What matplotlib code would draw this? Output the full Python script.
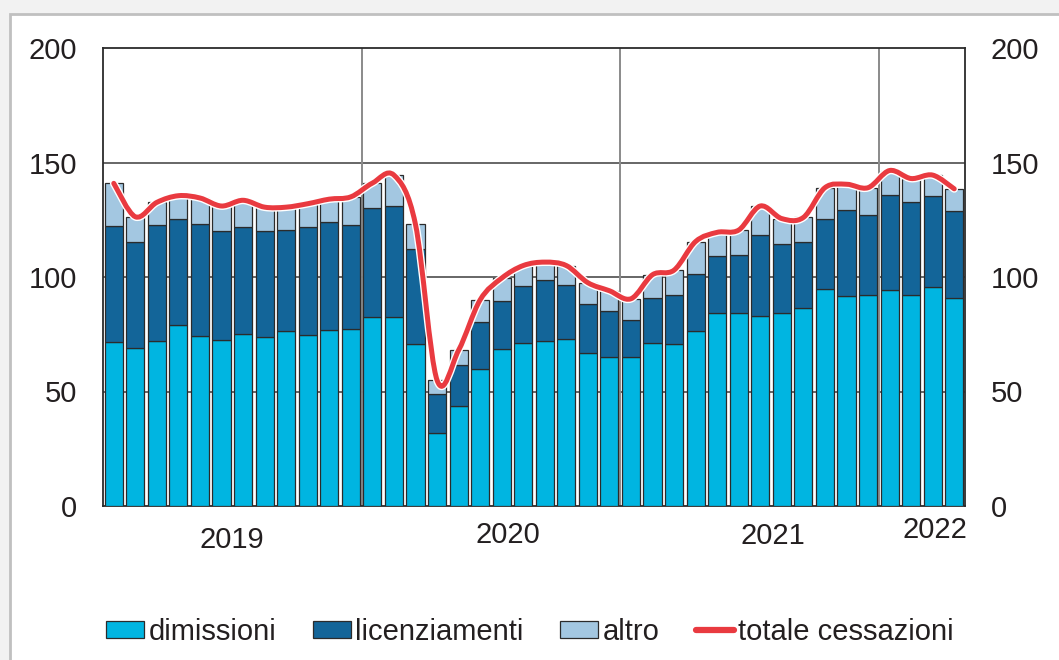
import numpy as np
import matplotlib
matplotlib.use("Agg")
import matplotlib.pyplot as plt
from matplotlib.path import Path
from matplotlib.patches import PathPatch, Rectangle, Patch
from matplotlib.lines import Line2D
import matplotlib.patheffects as pe

plt.rcParams['font.family'] = ['Liberation Sans', 'DejaVu Sans']

# monthly, Jan 2019 - Apr 2022
dimissioni = [71.5, 68.9, 72.1, 79.0, 74.1, 72.4, 75.1, 73.7, 76.3, 74.7, 76.9, 77.2,
              82.4, 82.7, 70.6, 31.7, 43.8, 59.7, 68.4, 71.0, 72.1, 72.8, 66.7, 65.2,
              64.9, 71.2, 70.6, 76.3, 84.1, 84.4, 83.0, 84.1, 86.3, 94.6, 91.7, 92.3,
              94.3, 92.0, 95.5, 90.7]
licenziamenti = [50.6, 46.5, 50.5, 46.5, 48.9, 47.7, 46.7, 46.4, 44.4, 47.1, 47.3, 45.5,
                 47.6, 48.3, 41.5, 17.1, 17.8, 20.6, 21.0, 25.1, 26.6, 23.6, 21.4, 20.0,
                 16.3, 19.6, 21.4, 24.9, 25.1, 25.1, 35.2, 30.5, 29.1, 30.6, 37.4, 34.6,
                 41.4, 40.6, 39.7, 38.1]
altro = [18.8, 10.9, 10.0, 10.0, 11.5, 10.9, 11.7, 10.4, 9.8, 10.2, 9.8, 12.3,
         11.0, 13.5, 10.9, 6.2, 6.4, 9.7, 10.1, 8.9, 7.8, 8.6, 9.4, 8.8,
         9.3, 10.2, 11.0, 14.3, 10.3, 11.0, 12.8, 10.9, 10.6, 13.8, 11.4, 12.1,
         10.8, 10.4, 9.3, 9.7]
anni = ['2019', '2020', '2021', '2022']
anni_x = [5.5, 18.3, 30.6, 38.1]
anni_y = [-0.075, -0.063, -0.065, -0.052]

dim = np.array(dimissioni)
lic = np.array(licenziamenti)
alt = np.array(altro)
totale = dim + lic + alt
x = np.arange(len(dim))

c_dim = '#00b5e1'
c_lic = '#136599'
c_alt = '#a3c7e1'
c_tot = '#e93a40'
c_txt = '#231f20'
fs = 21

fig = plt.figure(figsize=(10.59, 6.60), dpi=100)
fig.patch.set_facecolor('#f2f2f2')
fig.patches.append(Rectangle((9.5 / 1059, -0.1), 1.2, 1 - 13.5 / 660 + 0.1,
                             transform=fig.transFigure, facecolor='white',
                             edgecolor='#c0c0c0', linewidth=2, zorder=-10))

ax = fig.add_axes([103 / 1059, 1 - 506 / 660, 862 / 1059, 458 / 660])
ax.set_facecolor('white')

w = 0.84
ekw = dict(edgecolor='#2b2b2b', linewidth=0.9, zorder=3)
ax.bar(x, dim, w, color=c_dim, **ekw)
ax.bar(x, lic, w, bottom=dim, color=c_lic, **ekw)
ax.bar(x, alt, w, bottom=dim + lic, color=c_alt, **ekw)

# smooth line through totals (Catmull-Rom as cubic Bezier)
pts = np.column_stack([x, totale]).astype(float)
ext = np.vstack([pts[0], pts, pts[-1]])
verts = [tuple(pts[0])]
codes = [Path.MOVETO]
for i in range(1, len(ext) - 2):
    p0, p1, p2, p3 = ext[i - 1], ext[i], ext[i + 1], ext[i + 2]
    verts += [tuple(p1 + (p2 - p0) / 6), tuple(p2 - (p3 - p1) / 6), tuple(p2)]
    codes += [Path.CURVE4] * 3
line = PathPatch(Path(verts, codes), fill=False, edgecolor=c_tot, linewidth=3.6,
                 capstyle='round', joinstyle='round', zorder=5)
line.set_path_effects([pe.Stroke(linewidth=5.6, foreground='white'), pe.Normal()])
ax.add_patch(line)

ax.set_xlim(-0.5, len(x) - 0.5)
ax.set_ylim(0, 200)
for yv in [50, 100, 150]:
    ax.axhline(yv, color='#4d4d4d', linewidth=1.2, zorder=1)
for xv in [11.5, 23.5, 35.5]:
    ax.axvline(xv, color='#8a8a8a', linewidth=1.4, zorder=1)

for s in ax.spines.values():
    s.set_color('#2b2b2b')
    s.set_linewidth(1.3)
ax.spines['top'].set_zorder(6)

ax.set_yticks([0, 50, 100, 150, 200])
ax.tick_params(axis='y', length=0, labelsize=fs, labelcolor=c_txt, pad=18.5,
               right=True, labelright=True)
ax.set_xticks([])

for lab, xp, yp in zip(anni, anni_x, anni_y):
    ax.text(xp, yp, lab, transform=ax.get_xaxis_transform(), ha='center', va='center',
            fontsize=fs, color=c_txt)

handles = [Patch(facecolor=c_dim, edgecolor='#2b2b2b', linewidth=0.9),
           Patch(facecolor=c_lic, edgecolor='#2b2b2b', linewidth=0.9),
           Patch(facecolor=c_alt, edgecolor='#2b2b2b', linewidth=0.9),
           Line2D([], [], color=c_tot, linewidth=4.5, solid_capstyle='round')]
labels = ['dimissioni', 'licenziamenti', 'altro', 'totale cessazioni']
leg = fig.legend(handles, labels, loc='center', bbox_to_anchor=(530 / 1059, 1 - 632 / 660),
                 ncol=4, frameon=False, fontsize=fs, handlelength=1.3, handleheight=0.55,
                 handletextpad=0.15, columnspacing=1.25, borderaxespad=0)
for t in leg.get_texts():
    t.set_color(c_txt)

fig.savefig('out.png', dpi=100, facecolor=fig.get_facecolor())
